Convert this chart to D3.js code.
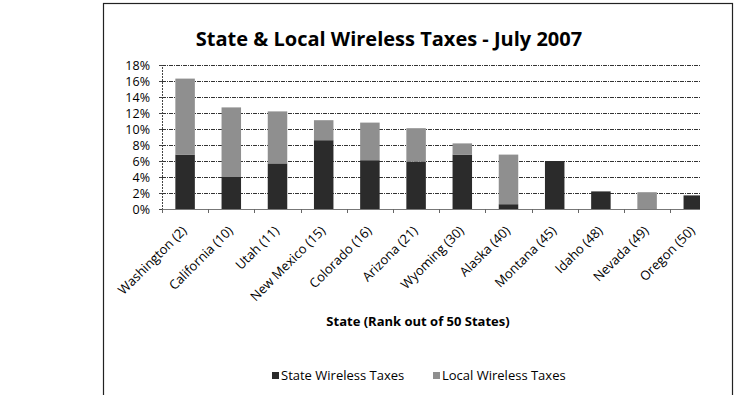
<!DOCTYPE html>
<html>
<head>
<meta charset="utf-8">
<script src="https://cdn.jsdelivr.net/npm/d3@7"></script>
<style>
  html, body { margin: 0; padding: 0; background: #fff; }
  svg { display: block; }
  text { font-family: "Open Sans", "Noto Sans", sans-serif; fill: #000; }
</style>
</head>
<body>
<svg id="chart" width="735" height="395"></svg>
<script>
// Wireless tax rates by state, July 2007 (percent)
const states = ["Washington (2)", "California (10)", "Utah (11)", "New Mexico (15)", "Colorado (16)",
  "Arizona (21)", "Wyoming (30)", "Alaska (40)", "Montana (45)", "Idaho (48)", "Nevada (49)", "Oregon (50)"];
const stateTax = [6.8, 4.0, 5.7, 8.6, 6.1, 5.9, 6.8, 0.6, 6.0, 2.2, 0.0, 1.7];
const localTax = [9.5, 8.7, 6.5, 2.5, 4.7, 4.2, 1.4, 6.2, 0.0, 0.0, 2.1, 0.0];
const yTicks = [0, 2, 4, 6, 8, 10, 12, 14, 16, 18];
const seriesNames = ["State Wireless Taxes", "Local Wireless Taxes"];
const seriesColors = ["#2b2b2b", "#8f8f8f"];

const svg = d3.select("#chart");
const plotLeft = 162, plotRight = 700, plotTop = 65, plotBottom = 209;

// outer chart frame
svg.append("rect")
  .attr("x", 103.5).attr("y", 3.5).attr("width", 629).attr("height", 400)
  .attr("fill", "none").attr("stroke", "#222").attr("stroke-width", 1.2);

// the category scale runs a little past the visible plot edge
const x = d3.scaleBand().domain(states).range([plotLeft, 716.4]).paddingInner(0.578).paddingOuter(0.289);
const y = d3.scaleLinear().domain([0, 18]).range([plotBottom, plotTop]);

svg.append("clipPath").attr("id", "plot-clip")
  .append("rect").attr("x", plotLeft).attr("y", 0).attr("width", plotRight - plotLeft).attr("height", 395);

// horizontal gridlines
svg.append("g").selectAll("line").data(yTicks.filter(d => d > 0)).join("line")
  .attr("x1", plotLeft).attr("x2", plotRight)
  .attr("y1", d => Math.round(y(d)) + 0.5).attr("y2", d => Math.round(y(d)) + 0.5)
  .attr("stroke", "#333").attr("stroke-width", 1).attr("stroke-dasharray", "4,1,1,1");

// y axis
const yAxis = svg.append("g").attr("transform", `translate(${plotLeft},0)`)
  .call(d3.axisLeft(y).tickValues(yTicks).tickFormat(d => d + "%").tickSize(3).tickPadding(9));
yAxis.select(".domain").attr("stroke", "#444").attr("stroke-dasharray", "2,1");
yAxis.selectAll(".tick line").attr("stroke", "#444");
yAxis.selectAll("text").style("font-size", "12.5px").attr("fill", "#000");

// x axis baseline
svg.append("line").attr("x1", plotLeft).attr("x2", plotRight)
  .attr("y1", plotBottom + 0.5).attr("y2", plotBottom + 0.5).attr("stroke", "#777");

// stacked bars
const stacked = d3.stack().keys([0, 1]).value((d, k) => d[k])(states.map((s, i) => [stateTax[i], localTax[i]]));
svg.append("g").attr("clip-path", "url(#plot-clip)")
  .selectAll("g").data(stacked).join("g")
  .attr("fill", (d, i) => seriesColors[i])
  .selectAll("rect").data(d => d.map((v, i) => ({ v, name: states[i] }))).join("rect")
  .attr("x", d => x(d.name))
  .attr("width", x.bandwidth())
  .attr("y", d => y(d.v[1]))
  .attr("height", d => y(d.v[0]) - y(d.v[1]));

// category labels
const xAxis = svg.append("g").attr("transform", `translate(0,${plotBottom})`)
  .call(d3.axisBottom(x).tickSize(0).tickPadding(6));
xAxis.select(".domain").remove();
xAxis.selectAll("text")
  .style("font-size", "13px")
  .attr("fill", "#000")
  .attr("text-anchor", "end")
  .attr("dy", "0.35em")
  .attr("transform", "translate(-5,15) rotate(-45)");
// category separators on the axis
svg.append("g").selectAll("line").data(states).join("line")
  .attr("x1", d => Math.round(x(d) - x.step() * x.paddingInner() / 2) + 0.5)
  .attr("x2", d => Math.round(x(d) - x.step() * x.paddingInner() / 2) + 0.5)
  .attr("y1", plotBottom).attr("y2", plotBottom + 4).attr("stroke", "#666");

// title
svg.append("text").attr("x", 389).attr("y", 46).attr("text-anchor", "middle")
  .style("font-size", "20px").style("font-weight", "bold").text("State & Local Wireless Taxes - July 2007");

// axis title
svg.append("text").attr("x", 418).attr("y", 326).attr("text-anchor", "middle")
  .style("font-size", "13px").style("font-weight", "bold").text("State  (Rank out of 50 States)");

// legend
const legend = svg.append("g").selectAll("g").data(seriesNames).join("g")
  .attr("transform", (d, i) => `translate(${i === 0 ? 272 : 433},0)`);
legend.append("rect").attr("x", 0).attr("y", 372).attr("width", 7).attr("height", 7)
  .attr("fill", (d, i) => seriesColors[i]);
legend.append("text").attr("x", 9).attr("y", 379.5).style("font-size", "13px").text(d => d);
</script>
</body>
</html>
